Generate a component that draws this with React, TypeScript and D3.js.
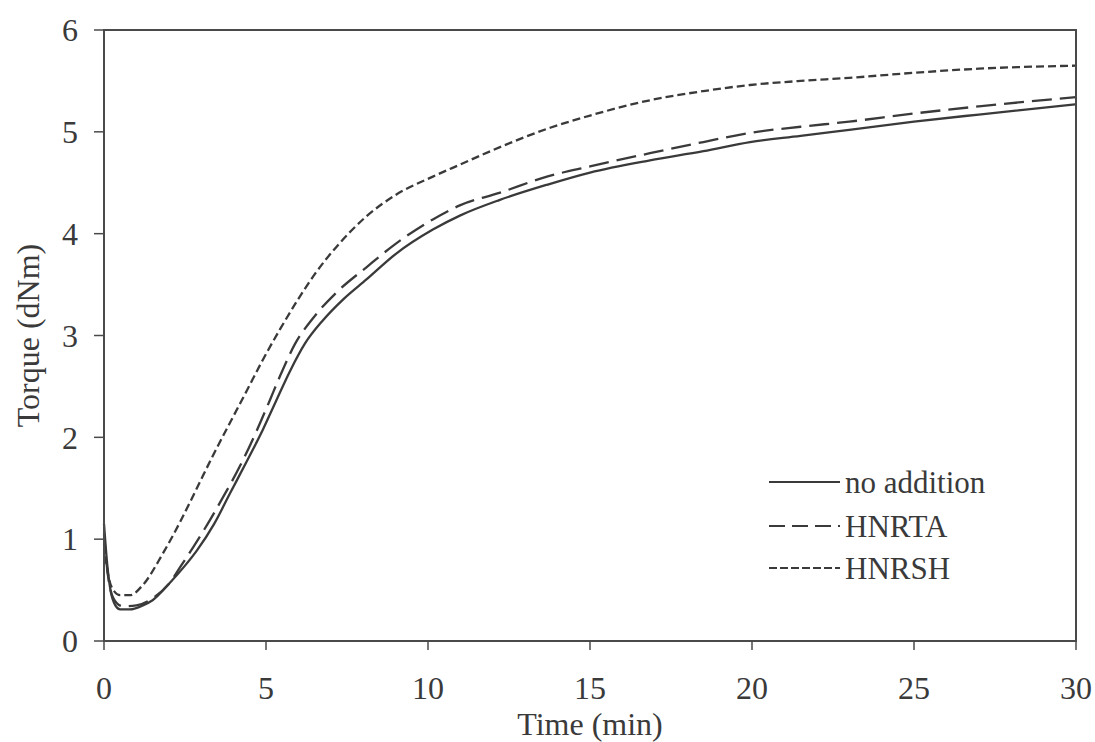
import React from "react";
import * as d3 from "d3";

const timeNo = [0, 0.1, 0.2, 0.35, 0.5, 0.8, 1.2, 1.5, 2, 2.5, 2.87, 3.4, 3.89, 4.4, 4.91, 5.3, 5.74, 6.2, 6.76, 7.4, 8.1, 9, 10.15, 11, 12.2, 13.67, 15, 16.85, 18.5, 19.94, 21.5, 23, 25, 27, 30];
const torqueNo = [1.15, 0.75, 0.5, 0.35, 0.31, 0.31, 0.35, 0.4, 0.56, 0.74, 0.89, 1.15, 1.45, 1.76, 2.08, 2.35, 2.65, 2.92, 3.15, 3.36, 3.55, 3.8, 4.04, 4.18, 4.33, 4.48, 4.6, 4.72, 4.81, 4.9, 4.96, 5.02, 5.1, 5.17, 5.27];

const timeTA = [0, 0.1, 0.2, 0.4, 0.6, 1, 1.5, 2, 2.4, 2.75, 3.2, 3.67, 4.2, 4.72, 5.1, 5.43, 5.9, 6.45, 7.2, 8.1, 9, 10.15, 11, 12.2, 13.67, 15, 16.85, 18.5, 19.94, 21.5, 23, 25, 27, 30];
const torqueTA = [1.05, 0.7, 0.5, 0.37, 0.34, 0.35, 0.42, 0.56, 0.75, 0.92, 1.15, 1.41, 1.72, 2.07, 2.35, 2.6, 2.92, 3.17, 3.43, 3.67, 3.9, 4.14, 4.28, 4.4, 4.56, 4.66, 4.79, 4.9, 4.99, 5.05, 5.1, 5.18, 5.25, 5.34];

const timeSH = [0, 0.1, 0.25, 0.5, 0.8, 1.2, 1.8, 2.35, 2.85, 3.36, 3.9, 4.41, 4.9, 5.43, 6, 6.5, 7.2, 8.1, 9, 10.15, 11, 12, 13.77, 15, 16.85, 18.5, 19.94, 21.5, 23, 25, 27, 30];
const torqueSH = [0.95, 0.7, 0.52, 0.45, 0.45, 0.55, 0.85, 1.17, 1.49, 1.82, 2.15, 2.46, 2.76, 3.06, 3.36, 3.6, 3.88, 4.17, 4.38, 4.56, 4.68, 4.82, 5.04, 5.16, 5.31, 5.4, 5.46, 5.5, 5.53, 5.58, 5.62, 5.65];

const seriesNames = ["no addition", "HNRTA", "HNRSH"];
const xTicks = [0, 5, 10, 15, 20, 25, 30];
const yTicks = [0, 1, 2, 3, 4, 5, 6];

const W = 1095;
const H = 742;
const left = 104;
const right = 1076;
const top = 30;
const bottom = 641;
const font = "'Liberation Serif', 'Times New Roman', serif";
const ink = "#3a3a3a";
const fs = 32;

export default function App() {
  const x = d3.scaleLinear().domain([0, 30]).range([left, right]);
  const y = d3.scaleLinear().domain([0, 6]).range([bottom, top]);
  const line = d3
    .line<[number, number]>()
    .x((d) => x(d[0]))
    .y((d) => y(d[1]))
    .curve(d3.curveMonotoneX);

  const series = [
    { name: seriesNames[0], pts: timeNo.map((t, i) => [t, torqueNo[i]] as [number, number]), dash: "none", ldash: "none" },
    { name: seriesNames[1], pts: timeTA.map((t, i) => [t, torqueTA[i]] as [number, number]), dash: "20 8", ldash: "16 7" },
    { name: seriesNames[2], pts: timeSH.map((t, i) => [t, torqueSH[i]] as [number, number]), dash: "8 4", ldash: "8 3" },
  ];

  const legendY = [482, 526, 568];

  return (
    <svg width={W} height={H} style={{ position: "absolute", left: 0, top: 0, background: "#fff" }}>
      <rect x={0} y={0} width={W} height={H} fill="#fff" />
      {series.map((s) => (
        <path key={s.name} d={line(s.pts) || ""} fill="none" stroke={ink} strokeWidth={2.3} strokeDasharray={s.dash} />
      ))}
      <rect x={left} y={top} width={right - left} height={bottom - top} fill="none" stroke="#4a4a4a" strokeWidth={2} />
      {yTicks.map((v) => (
        <g key={"y" + v}>
          <line x1={left - 10} x2={left} y1={y(v)} y2={y(v)} stroke="#4a4a4a" strokeWidth={1.5} />
          <text x={78} y={y(v)} dy="0.35em" textAnchor="end" fontFamily={font} fontSize={fs} fill={ink}>
            {v}
          </text>
        </g>
      ))}
      {xTicks.map((v) => (
        <g key={"x" + v}>
          <line x1={x(v)} x2={x(v)} y1={bottom} y2={bottom + 9} stroke="#4a4a4a" strokeWidth={1.5} />
          <text x={x(v)} y={699} textAnchor="middle" fontFamily={font} fontSize={fs} fill={ink}>
            {v}
          </text>
        </g>
      ))}
      <text x={590} y={735} textAnchor="middle" fontFamily={font} fontSize={fs} fill={ink}>
        Time (min)
      </text>
      <text transform={`translate(39,${(top + bottom) / 2}) rotate(-90)`} textAnchor="middle" fontFamily={font} fontSize={fs} fill={ink}>
        Torque (dNm)
      </text>
      {series.map((s, i) => (
        <g key={"lg" + s.name}>
          <line x1={769} x2={840} y1={legendY[i]} y2={legendY[i]} stroke={ink} strokeWidth={2} strokeDasharray={s.ldash} />
          <text x={845} y={legendY[i]} dy="0.35em" fontFamily={font} fontSize={fs - 1} fill={ink}>
            {s.name}
          </text>
        </g>
      ))}
    </svg>
  );
}
